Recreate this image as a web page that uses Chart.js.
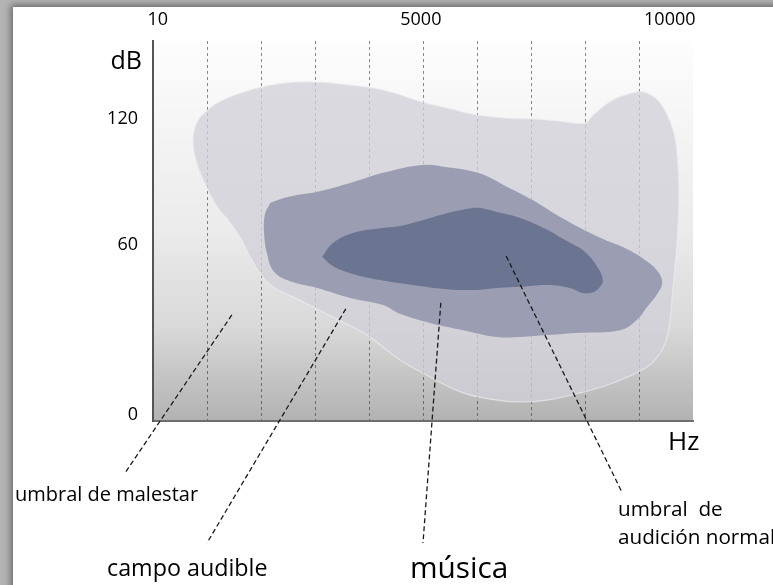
<!DOCTYPE html>
<html>
<head>
<meta charset="utf-8">
<script src="https://cdn.jsdelivr.net/npm/chart.js@4.4.1/dist/chart.umd.min.js"></script>
<style>
  html, body { margin: 0; padding: 0; width: 773px; height: 585px; overflow: hidden; background: #b4b4b4; }
  #card { position: absolute; left: 13px; top: 7px; width: 820px; height: 640px; background: #fff; box-shadow: 0 0 7px 2px rgba(0,0,0,0.45); }
  #chart { position: absolute; left: 0; top: 0; }
</style>
</head>
<body>
<div id="card"></div>
<canvas id="chart" width="773" height="585"></canvas>
<script>
// escala de dibujo: x en divisiones (0-10), y en % de la altura del area (0-100)
const xTopPos = [0.09, 4.96, 9.57];
const xTopLabels = ['10', '5000', '10000'];
const yTickPos = [1.5, 46.3, 79.5];
const yTickLabels = ['0', '60', '120'];

// campo audible (zona clara)
const outerX = [0.87, 1.19, 1.80, 2.41, 3.04, 3.65, 4.26, 5.00, 5.44, 6.02, 6.56, 7.02, 7.54, 8.00, 8.15, 8.52, 8.96, 9.15, 9.39, 9.63, 9.72, 9.74, 9.70, 9.63, 9.54, 9.39, 9.15, 8.52, 7.91, 7.30, 6.80, 6.37, 5.74, 5.13, 4.57, 3.96, 3.33, 2.72, 2.22, 1.98, 1.80, 1.61, 1.39, 1.19, 0.93, 0.78, 0.74, 0.78];
const outerY = [80.0, 83.7, 87.1, 88.9, 89.2, 88.4, 87.1, 83.9, 82.4, 80.5, 79.7, 79.5, 78.9, 78.4, 80.5, 84.5, 86.6, 86.3, 83.7, 76.6, 67.9, 58.2, 46.3, 35.3, 23.2, 17.9, 14.2, 10.0, 7.4, 5.5, 5.0, 5.5, 7.4, 11.6, 16.1, 22.6, 27.4, 31.8, 35.3, 38.9, 43.2, 48.4, 52.9, 56.3, 63.4, 69.5, 73.9, 77.4];

// musica
const musicX = [2.17, 2.48, 3.04, 3.65, 4.26, 5.00, 5.44, 6.02, 6.56, 7.02, 7.54, 8.28, 8.74, 9.11, 9.33, 9.43, 9.35, 9.15, 8.96, 8.65, 7.91, 7.30, 6.80, 6.37, 5.74, 5.13, 4.57, 4.26, 3.65, 3.04, 2.48, 2.22, 2.11, 2.06, 2.07];
const musicY = [57.4, 58.9, 60.3, 62.6, 65.3, 67.4, 66.8, 65.3, 61.6, 58.2, 53.7, 48.2, 45.5, 42.4, 39.7, 36.6, 33.7, 30.0, 26.6, 23.9, 23.2, 22.6, 22.1, 22.1, 23.9, 25.8, 28.2, 30.5, 32.4, 35.0, 37.1, 39.7, 44.2, 48.9, 54.2];

// umbral de audicion normal (zona oscura)
const normalX = [3.13, 3.33, 3.70, 4.26, 4.57, 5.00, 5.44, 5.81, 6.02, 6.37, 6.80, 7.30, 7.63, 8.00, 8.24, 8.33, 8.28, 8.15, 7.96, 7.72, 7.30, 6.80, 6.37, 6.00, 5.44, 4.81, 4.20, 3.70, 3.33];
const normalY = [43.2, 46.8, 49.5, 50.8, 51.3, 52.9, 54.7, 55.8, 56.1, 55.0, 53.4, 50.3, 47.6, 44.5, 40.3, 37.1, 35.3, 33.9, 33.7, 35.0, 35.8, 35.3, 35.0, 34.5, 34.7, 35.8, 37.1, 38.7, 40.8];

// lineas de referencia de las etiquetas
const malestarLineX = [1.46, -0.52];
const malestarLineY = [27.9, -13.7];
const campoLineX = [3.57, 1.0];
const campoLineY = [29.5, -32.1];
const musicaLineX = [5.33, 5.0];
const musicaLineY = [31.1, -32.1];
const normalLineX = [6.54, 8.69];
const normalLineY = [43.4, -18.9];

function pts(xs, ys, closed) {
  const out = xs.map((x, i) => ({ x: x, y: ys[i] }));
  if (closed) out.push(out[0]);
  return out;
}

function blob(xs, ys, color, border, order) {
  return {
    data: pts(xs, ys, true),
    showLine: true,
    fill: 'shape',
    backgroundColor: color,
    borderColor: border,
    borderWidth: border ? 1.2 : 0,
    pointRadius: 0,
    tension: 0.4,
    order: order
  };
}

function leader(xs, ys) {
  return {
    data: pts(xs, ys, false),
    showLine: true,
    fill: false,
    borderColor: '#1a1a1a',
    borderWidth: 1.3,
    borderDash: [5, 3],
    pointRadius: 0,
    tension: 0,
    clip: false,
    order: 1
  };
}

// textos sueltos (posicion en pixeles)
const notes = [
  { text: 'dB', x: 142, y: 69, size: 25, align: 'right' },
  { text: 'Hz', x: 668, y: 450, size: 26 },
  { text: 'umbral de malestar', x: 15, y: 501, size: 20 },
  { text: 'campo audible', x: 107, y: 576, size: 23.3 },
  { text: 'música', x: 410, y: 578, size: 29.8 },
  { text: 'umbral  de', x: 618, y: 516, size: 20.7 },
  { text: 'audición normal', x: 618, y: 544, size: 20.7 }
];

const plotBg = {
  id: 'plotBg',
  beforeDraw(chart) {
    const { ctx, chartArea: a } = chart;
    const g = ctx.createLinearGradient(0, a.top, 0, a.bottom);
    g.addColorStop(0, '#fdfdfd');
    g.addColorStop(0.5, '#ebebeb');
    g.addColorStop(0.75, '#d9d9d9');
    g.addColorStop(1, '#b2b2b2');
    ctx.save();
    ctx.fillStyle = g;
    ctx.fillRect(a.left, a.top, a.right - a.left, a.bottom - a.top);
    ctx.restore();
  }
};

const notesPlugin = {
  id: 'notes',
  afterDraw(chart) {
    const ctx = chart.ctx;
    ctx.save();
    ctx.fillStyle = '#000';
    ctx.textBaseline = 'alphabetic';
    notes.forEach(n => {
      ctx.font = n.size + "px 'Open Sans', sans-serif";
      ctx.textAlign = n.align || 'left';
      ctx.fillText(n.text, n.x, n.y);
    });
    ctx.restore();
  }
};

Chart.defaults.font.family = "'Open Sans', sans-serif";
Chart.defaults.color = '#000';

new Chart(document.getElementById('chart'), {
  type: 'scatter',
  data: {
    datasets: [
      blob(outerX, outerY, 'rgba(208,208,215,0.76)', 'rgba(236,236,240,0.7)', 4),
      blob(musicX, musicY, '#9b9eb2', null, 3),
      blob(normalX, normalY, '#6b7491', null, 2),
      leader(malestarLineX, malestarLineY),
      leader(campoLineX, campoLineY),
      leader(musicaLineX, musicaLineY),
      leader(normalLineX, normalLineY)
    ]
  },
  options: {
    responsive: false,
    animation: false,
    devicePixelRatio: 1,
    layout: { padding: { left: 0, top: 0, right: 80, bottom: 0 } },
    plugins: { legend: { display: false }, tooltip: { enabled: false } },
    scales: {
      x: {
        type: 'linear',
        position: 'bottom',
        min: 0, max: 10,
        z: 1,
        ticks: { display: false, stepSize: 1 },
        grid: {
          drawTicks: false,
          lineWidth: 1,
          color: c => (c.tick && (c.tick.value === 0 || c.tick.value === 10)) ? 'rgba(0,0,0,0)' : 'rgba(40,40,40,0.55)'
        },
        border: { display: true, color: '#6e6e6e', width: 2, dash: [3, 3] },
        afterFit: s => { s.height = 164; }
      },
      xTop: {
        type: 'linear',
        position: 'top',
        min: 0, max: 10,
        grid: { display: false, drawTicks: false },
        border: { display: false },
        ticks: {
          autoSkip: false,
          maxRotation: 0,
          padding: 10,
          font: { size: 18 },
          callback: (v, i) => xTopLabels[i]
        },
        afterBuildTicks: s => { s.ticks = xTopPos.map(v => ({ value: v })); },
        afterFit: s => { s.height = 41; }
      },
      y: {
        type: 'linear',
        min: 0, max: 100,
        grid: { display: false, drawTicks: false },
        border: { display: true, color: '#555', width: 2 },
        ticks: {
          autoSkip: false,
          padding: 15,
          font: { size: 18 },
          callback: (v, i) => yTickLabels[i]
        },
        afterBuildTicks: s => { s.ticks = yTickPos.map(v => ({ value: v })); },
        afterFit: s => { s.width = 153; }
      }
    }
  },
  plugins: [plotBg, notesPlugin]
});
</script>
</body>
</html>
